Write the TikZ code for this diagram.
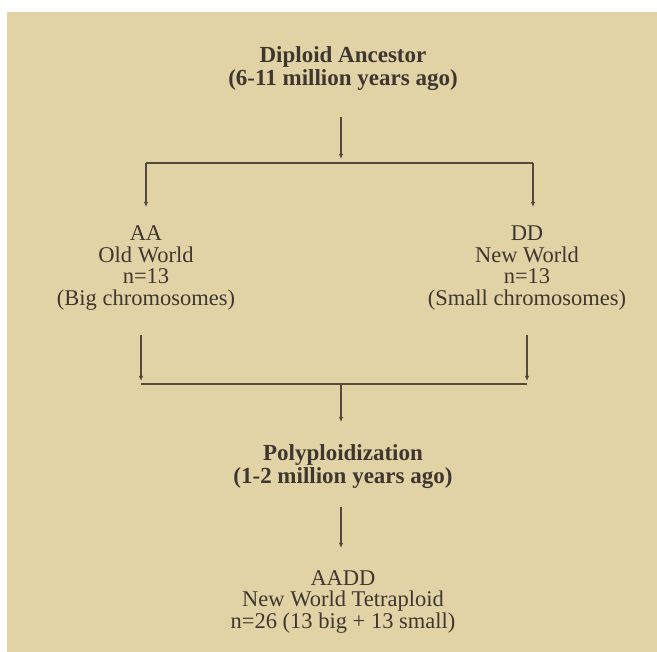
\documentclass[tikz,border=0pt]{standalone}
\usepackage{fontspec}
\setmainfont{Liberation Serif}
\usetikzlibrary{arrows.meta}
\definecolor{bg}{HTML}{E2D3A6}
\definecolor{ink}{HTML}{3E372F}
\definecolor{linec}{HTML}{544A3C}
\tikzset{
  txt/.style={align=center, text=ink, inner sep=0pt, font=\fontsize{22.5}{21.5}\selectfont},
  btxt/.style={txt, font=\fontsize{23}{23}\selectfont\bfseries},
  conn/.style={draw=linec, line width=1.3pt},
  arr/.style={conn, -{Latex[length=5pt,width=4.5pt]}},
}
\begin{document}
\begin{tikzpicture}[x=1pt,y=-1pt]
\useasboundingbox (0,0) rectangle (657,652);
\fill[white] (0,0) rectangle (657,652);
\fill[bg] (7,12) rectangle (657,652);
\node[btxt] (anc) at (343,69) {Diploid Ancestor\\(6-11 million years ago)};
\coordinate (ancBot) at (341,117);
\coordinate (ancTip) at (341,159);
\coordinate (tl) at (146,163);
\coordinate (tr) at (533,163);
\coordinate (aaTip) at (146,207);
\coordinate (ddTip) at (533,207);
\node[txt] (aa) at (146,268) {AA\\Old World\\n=13\\(Big chromosomes)};
\node[txt] (dd) at (527,268) {DD\\New World\\n=13\\(Small chromosomes)};
\coordinate (aaTop) at (141,335);
\coordinate (ddTop) at (527,335);
\coordinate (aaEnd) at (141,381);
\coordinate (ddEnd) at (527,381);
\coordinate (bl) at (141,384);
\coordinate (br) at (527,384);
\coordinate (bm) at (341,384);
\coordinate (bmTip) at (341,422);
\node[btxt] (poly) at (343,467) {Polyploidization\\(1-2 million years ago)};
\coordinate (polyBot) at (341,507);
\coordinate (polyTip) at (341,548);
\node[txt] (aadd) at (343,602) {AADD\\New World Tetraploid\\n=26 (13 big + 13 small)};
\draw[arr] (ancBot) -- (ancTip);
\draw[conn] (tl) -- (tr);
\draw[arr] (tl) -- (aaTip);
\draw[arr] (tr) -- (ddTip);
\draw[arr] (aaTop) -- (aaEnd);
\draw[arr] (ddTop) -- (ddEnd);
\draw[conn] (bl) -- (br);
\draw[arr] (bm) -- (bmTip);
\draw[arr] (polyBot) -- (polyTip);
\end{tikzpicture}
\end{document}
